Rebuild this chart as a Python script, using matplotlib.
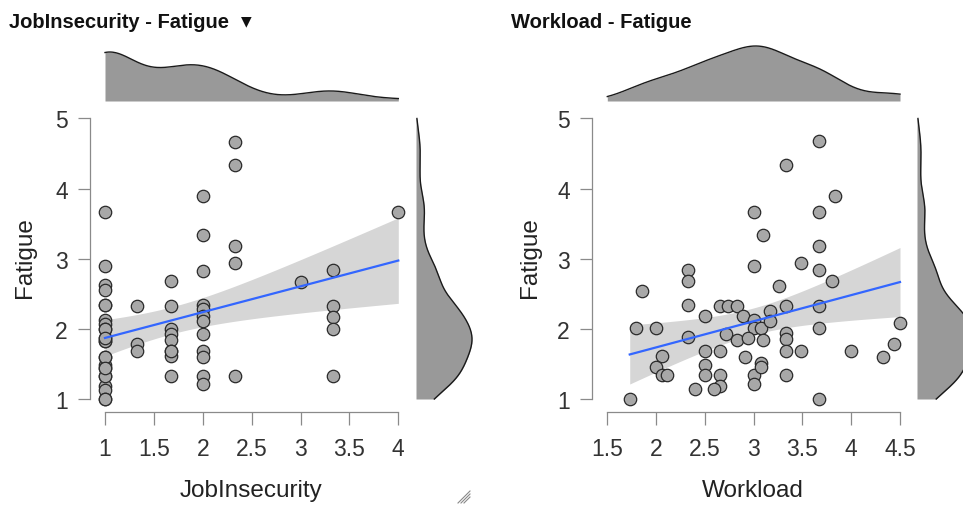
import numpy as np
import matplotlib
matplotlib.use("Agg")
import matplotlib.pyplot as plt
from matplotlib.lines import Line2D

# ---------------- data ----------------
job_insecurity = ([1.0] * 17 + [1.33] * 3 + [1.67] * 8 + [2.0] * 12 + [2.33] * 5 + [3.0] + [3.33] * 5 + [4.0]
                  + [1.0] * 8 + [1.67])
fatigue_job = [3.67, 2.89, 2.63, 2.55, 2.34, 2.13, 2.07, 2.0, 1.87, 1.83, 1.60, 1.49, 1.44, 1.33, 1.19, 1.13, 1.0,
               2.33, 1.79, 1.68,
               2.68, 2.33, 2.0, 1.93, 1.84, 1.69, 1.61, 1.33,
               3.90, 3.34, 2.83, 2.34, 2.29, 2.19, 2.11, 1.92, 1.69, 1.60, 1.33, 1.21,
               4.67, 4.33, 3.18, 2.94, 1.33,
               2.67,
               2.84, 2.33, 2.17, 2.0, 1.33,
               3.67,
               1.0, 1.33, 1.83, 1.60, 2.0, 2.34, 1.87, 1.44,
               1.69]

workload = [1.73, 1.86, 1.79, 2.0, 2.06, 2.0, 2.06, 2.11,
            2.33, 2.33, 2.33, 2.33,
            2.5, 2.5, 2.5, 2.5, 2.4,
            2.65, 2.74, 2.83, 2.66, 2.66, 2.66, 2.59,
            2.72, 2.83, 2.89,
            3.0, 3.1, 3.0, 3.0, 3.0, 2.94, 2.91, 3.0, 3.0,
            3.08, 3.08, 3.08, 3.17, 3.17, 3.1, 3.26,
            3.33, 3.33, 3.33, 3.33, 3.33, 3.33,
            3.49, 3.49,
            3.67, 3.67, 3.67, 3.67, 3.67, 3.67, 3.67,
            3.83, 3.8, 4.0, 4.33, 4.44, 4.5]
fatigue_work = [1.0, 2.54, 2.01, 2.01, 1.61, 1.45, 1.34, 1.34,
                2.84, 2.68, 2.34, 1.89,
                2.18, 1.68, 1.48, 1.34, 1.14,
                2.33, 2.33, 2.33, 1.68, 1.34, 1.18, 1.14,
                1.93, 1.84, 2.18,
                3.67, 3.34, 2.90, 2.13, 2.01, 1.87, 1.60, 1.34, 1.22,
                2.01, 1.51, 1.45, 2.25, 2.11, 1.84, 2.61,
                4.34, 2.33, 1.94, 1.86, 1.68, 1.34,
                2.94, 1.68,
                4.68, 3.67, 3.18, 2.84, 2.33, 2.01, 1.0,
                3.90, 2.68, 1.68, 1.60, 1.79, 2.09]

x_ticks_job = [1, 1.5, 2, 2.5, 3, 3.5, 4]
x_tick_labels_job = ["1", "1.5", "2", "2.5", "3", "3.5", "4"]
x_ticks_work = [1.5, 2, 2.5, 3, 3.5, 4, 4.5]
x_tick_labels_work = ["1.5", "2", "2.5", "3", "3.5", "4", "4.5"]
y_ticks = [1, 2, 3, 4, 5]
y_tick_labels = ["1", "2", "3", "4", "5"]

titles = ["JobInsecurity - Fatigue", "Workload - Fatigue"]
x_labels = ["JobInsecurity", "Workload"]
y_label = "Fatigue"

# ---------------- style ----------------
plt.rcParams['font.family'] = ['Liberation Sans', 'DejaVu Sans']
W, H = 963, 506
fig = plt.figure(figsize=(W / 100, H / 100), dpi=100)

SPINE = '#8a8a8a'
TICKLAB = '#333333'
POINT_FC = '#a8a8a8'
POINT_EC = '#2a2a2a'
DENS_FC = '#999999'
BAND = '#d6d6d6'
LINE = '#3366ff'


def add_px_axes(x0, y0, x1, y1):
    return fig.add_axes([x0 / W, 1 - y1 / H, (x1 - x0) / W, (y1 - y0) / H])


def lim_from_px(p0, p1, pa, va, pb, vb):
    s = (vb - va) / (pb - pa)
    return va + (p0 - pa) * s, va + (p1 - pa) * s


def kde(data, grid):
    d = np.asarray(data, float)
    n = len(d)
    sd = d.std(ddof=1)
    q75, q25 = np.percentile(d, [75, 25])
    bw = 0.9 * min(sd, (q75 - q25) / 1.34) * n ** -0.2
    z = (grid[:, None] - d[None, :]) / bw
    return np.exp(-0.5 * z ** 2).sum(1) / (n * bw * np.sqrt(2 * np.pi))


def panel(xdata, ydata, xpx0, xpx1, xanchor, xticks, xticklabels, xrange_, title, xlabel,
          title_x, xlabel_x, ylabel_x, top_peak_py, marg_x0):
    xdata = np.asarray(xdata, float)
    ydata = np.asarray(ydata, float)
    top, bottom = 105, 413
    ax = add_px_axes(xpx0, top, xpx1, bottom)
    xlim = lim_from_px(xpx0, xpx1, *xanchor)
    ylim = lim_from_px(bottom, top, 400, 1, 119.5, 5)
    ax.set_xlim(xlim)
    ax.set_ylim(ylim)

    # regression with CI
    g = np.linspace(xdata.min(), xdata.max(), 200)
    b1, b0 = np.polyfit(xdata, ydata, 1)
    n = len(xdata)
    resid = ydata - (b0 + b1 * xdata)
    s = np.sqrt((resid ** 2).sum() / (n - 2))
    se = s * np.sqrt(1 / n + (g - xdata.mean()) ** 2 / ((xdata - xdata.mean()) ** 2).sum())
    yhat = b0 + b1 * g
    ax.fill_between(g, yhat - 2.0 * se, yhat + 2.0 * se, color=BAND, lw=0, zorder=1)
    ax.scatter(xdata, ydata, s=80, facecolor=POINT_FC, edgecolor=POINT_EC, linewidth=0.9, zorder=2)
    ax.plot(g, yhat, color=LINE, lw=1.6, zorder=3)

    for sp in ['top', 'right']:
        ax.spines[sp].set_visible(False)
    for sp in ['left', 'bottom']:
        ax.spines[sp].set_color(SPINE)
        ax.spines[sp].set_linewidth(0.9)
    ax.spines['left'].set_bounds(1, 5)
    ax.spines['bottom'].set_bounds(xticks[0], xticks[-1])
    ax.set_xticks(xticks)
    ax.set_xticklabels(xticklabels)
    ax.set_yticks(y_ticks)
    ax.set_yticklabels(y_tick_labels)
    ax.tick_params(axis='both', direction='out', length=9, width=0.9, color=SPINE,
                   labelsize=16.5, labelcolor=TICKLAB)
    ax.tick_params(axis='x', pad=9)
    ax.tick_params(axis='y', pad=7)
    ax.patch.set_alpha(0)

    # top marginal density
    axt = add_px_axes(xpx0, 38, xpx1, 102)
    gx = np.linspace(xrange_[0], xrange_[1], 300)
    dx = kde(xdata, gx)
    axt.fill_between(gx, 0, dx, color=DENS_FC, lw=0)
    axt.plot(gx, dx, color='#1a1a1a', lw=1.0)
    axt.set_xlim(xlim)
    axt.set_ylim(0, dx.max() * 64 / (102 - top_peak_py))
    axt.axis('off')

    # right marginal density
    axr = add_px_axes(marg_x0, top, marg_x0 + 70, bottom)
    gy = np.linspace(1, 5, 300)
    dy = kde(ydata, gy)
    axr.fill_betweenx(gy, 0, dy, color=DENS_FC, lw=0)
    axr.plot(dy, gy, color='#1a1a1a', lw=1.0)
    axr.set_ylim(ylim)
    axr.set_xlim(0, dy.max() * 70 / 56)
    axr.axis('off')

    fig.text(title_x / W, 1 - 22 / H, title, fontsize=14.5, fontweight='bold',
             color='#111111', va='center', ha='left')
    fig.text(xlabel_x / W, 1 - 491 / H, xlabel, fontsize=17.5, color='#222222',
             ha='center', va='center')
    fig.text(ylabel_x / W, 1 - 258 / H, y_label, fontsize=17.5, color='#222222',
             ha='center', va='center', rotation=90)


panel(job_insecurity, fatigue_job, 90, 412, (105, 1, 398.3, 4), x_ticks_job, x_tick_labels_job,
      (1, 4), titles[0], x_labels[0], 9, 251, 25, 53, 416)
panel(workload, fatigue_work, 592, 912, (607.3, 1.5, 900, 4.5), x_ticks_work, x_tick_labels_work,
      (1.5, 4.5), titles[1], x_labels[1], 511, 753, 530, 47, 917)

# dropdown marker next to first title
fig.text(246 / W, 1 - 21 / H, "\u25BC", fontsize=10, color='#111111', va='center', ha='center',
         family=['DejaVu Sans'])

# small resize handle (UI decoration) near the bottom of the first panel
for k in range(3):
    off = 3 * k
    fig.add_artist(Line2D([(458 + off) / W, (470) / W], [1 - 504 / H, 1 - (492 + off) / H],
                          transform=fig.transFigure, color='#888888', lw=0.8))

fig.savefig("out.png", dpi=100)
